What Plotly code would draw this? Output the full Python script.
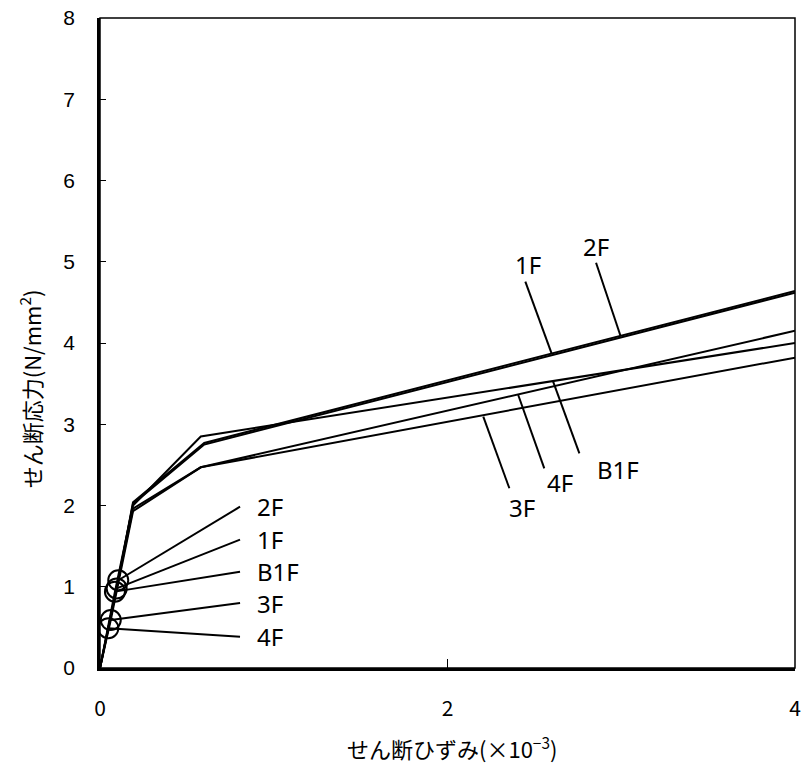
import plotly.graph_objects as go

# ---- data ----
floors = ["1F", "2F", "B1F", "3F", "4F"]
strain_1F = [0, 0.096, 0.19, 0.60, 4.0]
stress_1F = [0, 0.98, 2.02, 2.75, 4.62]
strain_2F = [0, 0.105, 0.19, 0.60, 4.0]
stress_2F = [0, 1.08, 2.04, 2.77, 4.64]
strain_B1F = [0, 0.086, 0.19, 0.58, 4.0]
stress_B1F = [0, 0.94, 2.00, 2.85, 4.00]
strain_3F = [0, 0.062, 0.19, 0.58, 4.0]
stress_3F = [0, 0.59, 1.93, 2.47, 3.82]
strain_4F = [0, 0.048, 0.19, 0.58, 4.0]
stress_4F = [0, 0.49, 1.96, 2.47, 4.15]

# crack points (index 1 of each series) are circled
crack_index = 1

# left-side labels for crack points: leader end (x, y)
left_label_x = [0.806, 0.806, 0.806, 0.806, 0.806]
left_label_y = [1.58, 1.985, 1.185, 0.80, 0.385]
left_text_x = 0.89

# right-side labels: text position and leader endpoints
right_text_x = [2.463, 2.855, 2.981, 2.429, 2.65]
right_text_y = [4.97, 5.19, 2.437, 1.98, 2.277]
right_lead_x0 = [2.448, 2.855, 2.759, 2.356, 2.557]
right_lead_y0 = [4.755, 4.988, 2.642, 2.212, 2.458]
right_lead_x1 = [2.599, 2.996, 2.608, 2.206, 2.407]
right_lead_y1 = [3.873, 4.086, 3.524, 3.093, 3.36]

x_ticks = [0, 2, 4]
y_ticks = [0, 1, 2, 3, 4, 5, 6, 7, 8]

x_title = "せん断ひずみ(×10<sup>−3</sup>)"
y_title = "せん断応力(N/mm<sup>2</sup>)"

series = {
    "1F": (strain_1F, stress_1F),
    "2F": (strain_2F, stress_2F),
    "B1F": (strain_B1F, stress_B1F),
    "3F": (strain_3F, stress_3F),
    "4F": (strain_4F, stress_4F),
}

fig = go.Figure()
LINE = dict(color="black", width=2)

for name in floors:
    xs, ys = series[name]
    fig.add_trace(go.Scatter(x=xs, y=ys, mode="lines", line=LINE,
                             name=name, showlegend=False, hoverinfo="skip"))

# crack circles
fig.add_trace(go.Scatter(
    x=[series[n][0][crack_index] for n in floors],
    y=[series[n][1][crack_index] for n in floors],
    mode="markers",
    marker=dict(symbol="circle-open", size=20, color="black", line=dict(width=2)),
    showlegend=False, hoverinfo="skip"))

LABEL_FONT = dict(family="Noto Sans", size=24, color="black")

# left leaders and labels
for i, name in enumerate(floors):
    xs, ys = series[name]
    fig.add_trace(go.Scatter(x=[xs[crack_index], left_label_x[i]],
                             y=[ys[crack_index], left_label_y[i]],
                             mode="lines", line=LINE, showlegend=False, hoverinfo="skip"))
    fig.add_annotation(x=left_text_x, y=left_label_y[i], text=name, showarrow=False,
                       xanchor="left", yanchor="middle", font=LABEL_FONT)

# right leaders and labels
for i, name in enumerate(floors):
    fig.add_trace(go.Scatter(x=[right_lead_x0[i], right_lead_x1[i]],
                             y=[right_lead_y0[i], right_lead_y1[i]],
                             mode="lines", line=LINE, showlegend=False, hoverinfo="skip"))
    fig.add_annotation(x=right_text_x[i], y=right_text_y[i], text=name, showarrow=False,
                       xanchor="center", yanchor="middle", font=LABEL_FONT)

# axis titles
TITLE_FONT = dict(family="Noto Sans CJK JP", size=22, color="black")
fig.add_annotation(xref="paper", yref="paper", x=0.506, y=-0.123, text=x_title,
                   showarrow=False, xanchor="center", yanchor="middle", font=TITLE_FONT)
fig.add_annotation(xref="paper", yref="paper", x=-0.101, y=0.43, text=y_title,
                   showarrow=False, xanchor="center", yanchor="middle", textangle=-90,
                   font=TITLE_FONT)

# thin top/right frame
fig.add_shape(type="rect", xref="x domain", yref="y domain", x0=0, x1=1, y0=0, y1=1,
              line=dict(color="black", width=1.5), layer="above")

fig.update_layout(
    width=802, height=769,
    margin=dict(l=100, r=7, t=18, b=101),
    paper_bgcolor="white", plot_bgcolor="white",
    showlegend=False,
)
fig.update_xaxes(
    range=[0, 4], tickvals=x_ticks, ticktext=[str(v) for v in x_ticks],
    automargin=False, ticklabeloverflow="allow",
    showgrid=False, zeroline=False, showline=True, linecolor="black", linewidth=2.5,
    ticks="inside", ticklen=9, tickwidth=1.2, tickcolor="black",
    tickfont=dict(family="Noto Sans CJK JP", size=21, color="black"),
    ticklabelstandoff=20,
)
fig.update_yaxes(
    range=[0, 8], tickvals=y_ticks, ticktext=[str(v) for v in y_ticks],
    automargin=False, ticklabeloverflow="allow",
    showgrid=False, zeroline=False, showline=True, linecolor="black", linewidth=2.5,
    ticks="inside", ticklen=6, tickwidth=1.2, tickcolor="black",
    tickfont=dict(family="Liberation Sans", size=21, color="black"),
    ticklabelstandoff=18,
)

# remove the browser's default 8px page margin so the figure fills the window
fig.write_html("out.html", config={"displayModeBar": False},
               post_script="document.body.style.margin='0';document.body.style.overflow='hidden';")
